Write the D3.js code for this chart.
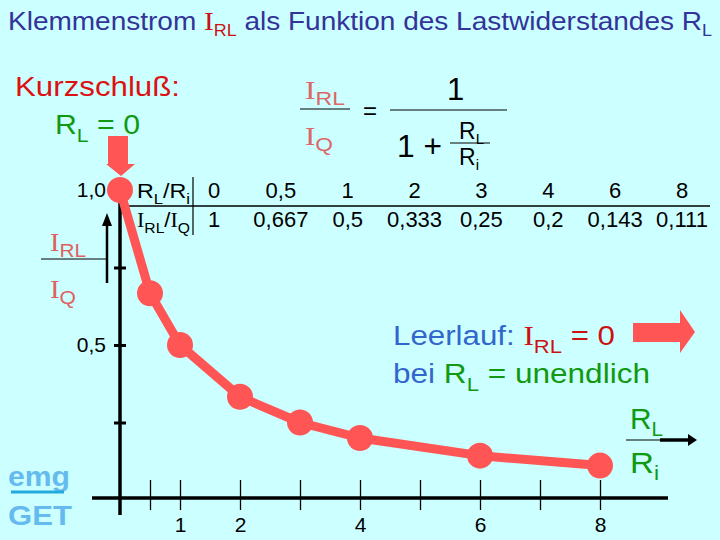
<!DOCTYPE html>
<html><head><meta charset="utf-8">
<script src="https://cdn.jsdelivr.net/npm/d3@7"></script>
<style>body{margin:0;background:#CCFFFF}svg{display:block}</style>
</head><body><script>
// ---- data ----
const ratioRL = [0, 0.5, 1, 2, 3, 4, 6, 8];
const currentRatio = [1, 0.667, 0.5, 0.333, 0.25, 0.2, 0.143, 0.111];
const ratioLabels = ["0", "0,5", "1", "2", "3", "4", "6", "8"];
const currentLabels = ["1", "0,667", "0,5", "0,333", "0,25", "0,2", "0,143", "0,111"];
const xTickValues = [0.5, 1, 2, 3, 4, 5, 6, 7, 8];
const xTickLabels = {1: "1", 2: "2", 4: "4", 6: "6", 8: "8"};
const yTickValues = [0.25, 0.5, 0.75, 1];
const yTickLabels = {0.5: "0,5", 1: "1,0"};

const W = 720, H = 540;
const SANS = "'Liberation Sans', Arial, sans-serif";
const SERIF = "'Liberation Serif', 'Times New Roman', serif";
const RED = "#FF5555", GREEN = "#119911", BLUE = "#3366CC";

const svg = d3.select("body").append("svg").attr("width", W).attr("height", H);
svg.append("rect").attr("width", W).attr("height", H).attr("fill", "#CCFFFF");

const x = d3.scaleLinear().domain([0, 8]).range([120, 600]);
const y = d3.scaleLinear().domain([0, 1]).range([500, 190]);

function rich(x0, y0, parts, size, fill, len, anchor) {
  const t = svg.append("text").attr("x", x0).attr("y", y0)
    .attr("font-family", SANS).attr("font-size", size).attr("fill", fill);
  if (anchor) t.attr("text-anchor", anchor);
  let cur = 0;
  parts.forEach(p => {
    const off = p.off || 0;
    const s = t.append("tspan").text(p.t).attr("dy", off - cur);
    cur = off;
    if (p.size) s.attr("font-size", p.size);
    if (p.fill) s.attr("fill", p.fill);
    if (p.font) s.attr("font-family", p.font);
  });
  if (len) t.attr("textLength", len).attr("lengthAdjust", "spacingAndGlyphs");
  return t;
}

// ---- title ----
rich(8, 30, [
  {t: "Klemmenstrom "},
  {t: "I", font: SERIF, fill: "#CC1111", size: 26},
  {t: "RL", off: 6, size: 16, fill: "#CC1111"},
  {t: " als Funktion des Lastwiderstandes R", off: 0},
  {t: "L", off: 6, size: 16}
], 25, "#333399", 704);

// ---- Kurzschluss ----
rich(15, 96, [{t: "Kurzschluß:"}], 28, "#DD1111", 165);
rich(55, 134, [{t: "R"}, {t: "L", off: 8, size: 19}, {t: " = 0", off: 0}], 27, GREEN, 85);

// ---- formula ----
const FC = "#DD6666";
rich(305, 99, [{t: "I", font: SERIF, size: 26}, {t: "RL", off: 6, size: 19}], 26, FC, 40);
svg.append("line").attr("x1", 300).attr("x2", 350).attr("y1", 109).attr("y2", 109).attr("stroke", "#000").attr("stroke-width", 1.2);
rich(305, 145, [{t: "I", font: SERIF, size: 26}, {t: "Q", off: 6, size: 19}], 26, FC, 28);
rich(363, 119, [{t: "="}], 24, "#000");
rich(447, 100, [{t: "1"}], 31, "#000");
svg.append("line").attr("x1", 390).attr("x2", 507).attr("y1", 110).attr("y2", 110).attr("stroke", "#000").attr("stroke-width", 1.2);
rich(397, 157, [{t: "1 +"}], 31, "#000", 45);
svg.append("line").attr("x1", 450).attr("x2", 490).attr("y1", 143).attr("y2", 143).attr("stroke", "#000").attr("stroke-width", 1);
rich(459, 139, [{t: "R"}, {t: "L", off: 5, size: 15}], 23, "#000");
rich(459, 165, [{t: "R"}, {t: "i", off: 5, size: 15}], 23, "#000");

// ---- table ----
const col = d3.scalePoint().domain(d3.range(ratioLabels.length)).range([214, 682]);
rich(137, 198, [{t: "R"}, {t: "L", off: 6, size: 15}, {t: "/R", off: 0}, {t: "i", off: 6, size: 15}], 21, "#000", 53);
rich(137, 227, [{t: "I", font: SERIF}, {t: "RL", off: 6, size: 15}, {t: "/", off: 0}, {t: "I", font: SERIF}, {t: "Q", off: 6, size: 15}], 21, "#000", 53);
svg.append("line").attr("x1", 128).attr("x2", 710).attr("y1", 206).attr("y2", 206).attr("stroke", "#000").attr("stroke-width", 1.5);
svg.append("line").attr("x1", 193).attr("x2", 193).attr("y1", 177).attr("y2", 235).attr("stroke", "#000").attr("stroke-width", 1.2);
svg.selectAll("text.r1").data(ratioLabels).join("text").attr("class", "r1")
  .attr("x", (d, i) => col(i)).attr("y", 198).attr("text-anchor", "middle")
  .attr("font-family", SANS).attr("font-size", 22).attr("fill", "#000").text(d => d);
svg.selectAll("text.r2").data(currentLabels).join("text").attr("class", "r2")
  .attr("x", (d, i) => col(i)).attr("y", 227).attr("text-anchor", "middle")
  .attr("font-family", SANS).attr("font-size", 22).attr("fill", "#000").text(d => d);

// ---- axes ----
const xAxis = d3.axisBottom(x).tickValues(xTickValues).tickSize(30).tickPadding(7)
  .tickFormat(d => xTickLabels[d] || "");
const gx = svg.append("g").attr("transform", "translate(0,480)").call(xAxis);
gx.select(".domain").remove();
gx.selectAll(".tick line").attr("stroke", "#000").attr("stroke-width", 1.3);
gx.selectAll(".tick text").attr("font-family", SANS).attr("font-size", 21).attr("fill", "#000");

const yAxis = d3.axisLeft(y).tickValues(yTickValues).tickSize(12).tickPadding(8)
  .tickFormat(d => yTickLabels[d] || "");
const gy = svg.append("g").attr("transform", "translate(126,0)").call(yAxis);
gy.select(".domain").remove();
gy.selectAll(".tick line").attr("stroke", "#000").attr("stroke-width", 3);
gy.selectAll(".tick text").attr("font-family", SANS).attr("font-size", 21).attr("fill", "#000");

svg.append("line").attr("x1", 92).attr("x2", 668).attr("y1", 498).attr("y2", 498).attr("stroke", "#000").attr("stroke-width", 3.5);
svg.append("line").attr("x1", 120).attr("x2", 120).attr("y1", 203).attr("y2", 515).attr("stroke", "#000").attr("stroke-width", 3.5);

// ---- y label (left fraction) ----
rich(50, 251, [{t: "I", font: SERIF, size: 26}, {t: "RL", off: 6, size: 19}], 26, "#E06060", 36);
svg.append("line").attr("x1", 41).attr("x2", 108).attr("y1", 259).attr("y2", 259).attr("stroke", "#000").attr("stroke-width", 1.2);
rich(50, 298, [{t: "I", font: SERIF, size: 26}, {t: "Q", off: 6, size: 19}], 26, "#E06060", 26);
svg.append("line").attr("x1", 107).attr("x2", 107).attr("y1", 283).attr("y2", 224).attr("stroke", "#000").attr("stroke-width", 2.5);
svg.append("path").attr("d", "M102,226 L107,213 L112,226 Z").attr("fill", "#000");

// ---- x label ----
rich(630, 429, [{t: "R"}, {t: "L", off: 7, size: 20}], 29, GREEN, 33);
rich(630, 473, [{t: "R"}, {t: "i", off: 7, size: 20}], 29, GREEN, 29);
svg.append("line").attr("x1", 626).attr("x2", 662).attr("y1", 440).attr("y2", 440).attr("stroke", "#000").attr("stroke-width", 1);
svg.append("line").attr("x1", 660).attr("x2", 690).attr("y1", 440).attr("y2", 440).attr("stroke", "#000").attr("stroke-width", 3.5);
svg.append("path").attr("d", "M688,434 L697,440 L688,446 Z").attr("fill", "#000");

// ---- curve ----
const pts = ratioRL.map((r, i) => [r, currentRatio[i]]);
svg.append("path").datum(pts)
  .attr("d", d3.line().x(d => x(d[0])).y(d => y(d[1])))
  .attr("fill", "none").attr("stroke", RED).attr("stroke-width", 9).attr("stroke-linejoin", "round");
svg.selectAll("circle.pt").data(pts).join("circle").attr("class", "pt")
  .attr("cx", d => x(d[0])).attr("cy", d => y(d[1])).attr("r", 13).attr("fill", RED);

// ---- arrows ----
svg.append("path").attr("d", "M108,136 L128,136 L128,164 L135,164 L121,176 L106,164 L108,164 Z").attr("fill", RED);
svg.append("path").attr("d", "M633,323 L680,323 L680,310 L695,332 L680,353 L680,342 L633,342 Z").attr("fill", RED);

// ---- Leerlauf ----
rich(393, 345, [
  {t: "Leerlauf: ", fill: BLUE},
  {t: "I", font: SERIF, fill: "#CC1111"},
  {t: "RL", off: 8, size: 19, fill: "#CC1111"},
  {t: " = 0", off: 0, fill: "#CC1111"}
], 27, BLUE, 222);
rich(393, 383, [
  {t: "bei ", fill: BLUE},
  {t: "R", fill: GREEN},
  {t: "L", off: 8, size: 19, fill: GREEN},
  {t: " = unendlich", off: 0, fill: GREEN}
], 27, BLUE, 257);

// ---- logo ----
rich(8, 486, [{t: "emg"}], 27, "#66BBEE", 62).attr("font-weight", "bold");
svg.append("line").attr("x1", 11).attr("x2", 64).attr("y1", 492).attr("y2", 492).attr("stroke", "#22AADD").attr("stroke-width", 3);
rich(8, 525, [{t: "GET"}], 27, "#66BBEE", 64).attr("font-weight", "bold");
</script></body></html>
